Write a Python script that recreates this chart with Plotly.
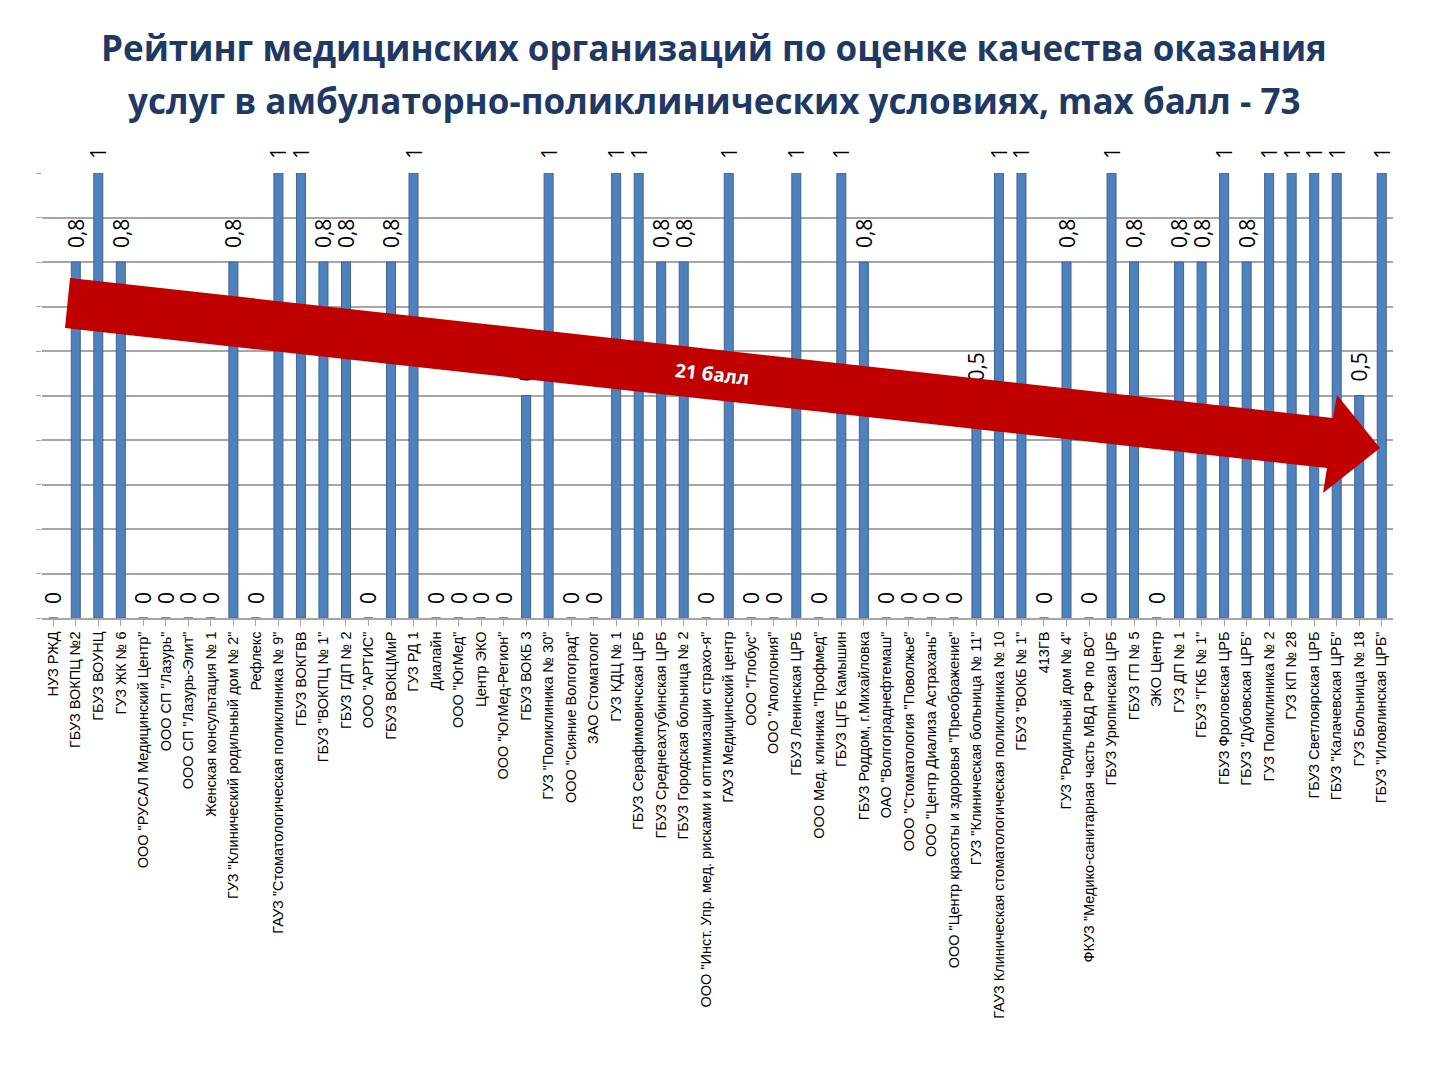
# python 3
import plotly.graph_objects as go

# data
organizations = [
    'НУЗ РЖД', 'ГБУЗ ВОКПЦ №2', 'ГБУЗ ВОУНЦ', 'ГУЗ ЖК № 6',
    'ООО "РУСАЛ Медицинский Центр"', 'ООО СП "Лазурь"', 'ООО СП "Лазурь-Элит"',
    'Женская консультация № 1', 'ГУЗ "Клинический родильный дом № 2"', 'Рефлекс',
    'ГАУЗ "Стоматологическая поликлиника № 9"', 'ГБУЗ ВОКГВВ', 'ГБУЗ "ВОКПЦ № 1"',
    'ГБУЗ ГДП № 2', 'ООО "АРТИС"', 'ГБУЗ ВОКЦМиР', 'ГУЗ РД 1', 'Диалайн',
    'ООО "ЮгМед"', 'Центр ЭКО', 'ООО "ЮгМед-Регион"', 'ГБУЗ ВОКБ 3',
    'ГУЗ "Поликлиника № 30"', 'ООО "Сияние Волгоград"', 'ЗАО Стоматолог',
    'ГУЗ КДЦ № 1', 'ГБУЗ Серафимовичская ЦРБ', 'ГБУЗ Среднеахтубинская ЦРБ',
    'ГБУЗ Городская больница № 2',
    'ООО "Инст. Упр. мед. рисками и оптимизации страхо-я"',
    'ГАУЗ Медицинский центр', 'ООО "Глобус"', 'ООО "Аполлония"',
    'ГБУЗ Ленинская ЦРБ', 'ООО Мед. клиника "Профмед"', 'ГБУЗ ЦГБ Камышин',
    'ГБУЗ Роддом, г.Михайловка', 'ОАО "Волгограднефтемаш"',
    'ООО "Стоматология "Поволжье"', 'ООО "Центр Диализа Астрахань"',
    'ООО "Центр красоты и здоровья "Преображение"',
    'ГУЗ "Клиническая больница № 11"',
    'ГАУЗ Клиническая стоматологическая поликлиника № 10', 'ГБУЗ "ВОКБ № 1"',
    '413ГВ', 'ГУЗ "Родильный дом № 4"',
    'ФКУЗ "Медико-санитарная часть МВД РФ по ВО"', 'ГБУЗ Урюпинская ЦРБ',
    'ГБУЗ ГП № 5', 'ЭКО Центр', 'ГУЗ ДП № 1', 'ГБУЗ "ГКБ № 1"',
    'ГБУЗ Фроловская ЦРБ', 'ГБУЗ "Дубовская ЦРБ"', 'ГУЗ Поликлиника № 2',
    'ГУЗ КП № 28', 'ГБУЗ Светлоярская ЦРБ', 'ГБУЗ "Калачевская ЦРБ"',
    'ГУЗ Больница № 18', 'ГБУЗ "Иловлинская ЦРБ"',
]

scores = [
    0, 0.8, 1, 0.8, 0, 0, 0, 0, 0.8, 0,
    1, 1, 0.8, 0.8, 0, 0.8, 1, 0, 0, 0,
    0, 0.5, 1, 0, 0, 1, 1, 0.8, 0.8, 0,
    1, 0, 0, 1, 0, 1, 0.8, 0, 0, 0,
    0, 0.5, 1, 1, 0, 0.8, 0, 1, 0.8, 0,
    0.8, 0.8, 1, 0.8, 1, 1, 1, 1, 0.5, 1,
]

# leading spaces push the rotated labels a bit away from the bar tops
score_labels = ["  " + f"{v:g}".replace('.', ',') for v in scores]

title_lines = ['Рейтинг медицинских организаций по оценке качества оказания',
               'услуг в амбулаторно-поликлинических условиях, max балл - 73']

# screen size, page margin of the html body, plot area on screen
W, H, BODY = 1440, 1080, 8
PL, PR, PT, PB = 42, 1393, 173, 618


def px(x, y):
    # screen pixel -> paper coordinates
    return (x - PL) / (PR - PL), (PB - y) / (PB - PT)


fig = go.Figure(go.Bar(
    x=list(range(len(organizations))),
    y=scores,
    text=score_labels,
    textposition='outside',
    textangle=-90,
    constraintext='none',
    cliponaxis=False,
    textfont=dict(family='Open Sans', size=21, color='black'),
    marker=dict(color='#4F81BD', line=dict(color='#3A6594', width=1)),
))

# red arrow
arrow_px = [(70, 278), (1333, 418), (1337, 395), (1380, 448),
            (1323, 493), (1327, 468), (65, 328)]
path = 'M ' + ' L '.join('%.5f,%.5f' % px(x, y) for x, y in arrow_px) + ' Z'
fig.add_shape(type='path', path=path, xref='paper', yref='paper',
              fillcolor='#C00000', line=dict(width=0), layer='above')

ax, ay = px(712, 374)
fig.add_annotation(x=ax, y=ay, xref='paper', yref='paper', text='<b>21 балл</b>',
                   showarrow=False, textangle=6.3,
                   font=dict(family='Open Sans', size=19, color='white'))

# title, two lines
for line, ty in zip(title_lines, [48, 100]):
    tx, tyy = px(714, ty)
    fig.add_annotation(x=tx, y=tyy, xref='paper', yref='paper', text='<b>%s</b>' % line,
                       showarrow=False, xanchor='center', yanchor='middle',
                       font=dict(family='Open Sans', size=35, color='#1F3864'))

fig.update_layout(
    template='none',
    width=W - BODY, height=H - BODY,
    margin=dict(l=PL - BODY, r=W - PR, t=PT - BODY, b=H - PB),
    paper_bgcolor='white',
    plot_bgcolor='white',
    showlegend=False,
    bargap=0.6,
    xaxis=dict(
        tickmode='array',
        tickvals=list(range(len(organizations))),
        ticktext=organizations,
        tickangle=-90,
        tickfont=dict(family='Liberation Sans', size=14.5, color='black'),
        range=[-0.5, len(organizations) - 0.5],
        showline=True, linecolor='#A6A6A6', linewidth=1.5,
        ticks='outside', ticklen=6, tickcolor='#A6A6A6',
        showgrid=False, zeroline=False, automargin=False,
    ),
    yaxis=dict(
        range=[0, 1], dtick=0.1,
        showticklabels=False,
        ticks='outside', ticklen=5, tickcolor='#A6A6A6',
        showgrid=True, gridcolor='#A6A6A6', gridwidth=1.5,
        zeroline=False, showline=False, automargin=False,
    ),
)

fig.write_html("out.html")
